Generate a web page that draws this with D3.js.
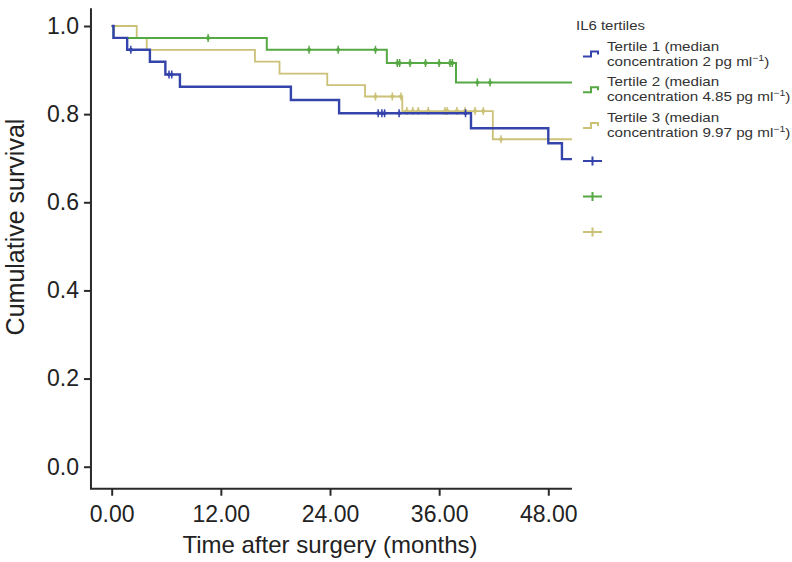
<!DOCTYPE html>
<html>
<head>
<meta charset="utf-8">
<script src="https://cdn.jsdelivr.net/npm/d3@7"></script>
<style>
  html, body { margin: 0; padding: 0; background: #fff; }
  svg { display: block; font-family: "Liberation Sans", Arial, Helvetica, sans-serif; }
  .axis text { fill: #222; }
</style>
</head>
<body>
<svg id="chart" width="792" height="562"></svg>
<script>
// survival steps (months, cumulative survival)
var t1Times = [0, 0.2, 1.7, 4.2, 5.9, 7.5, 19.7, 25.0, 39.5, 48.0, 49.5];
var t1Surv = [1, 0.973, 0.946, 0.919, 0.890, 0.862, 0.832, 0.802, 0.768, 0.734, 0.698];
var t1Censored = [2.1, 6.3, 6.6, 29.3, 29.7, 30.0, 31.6, 38.9];

var t2Times = [0, 0.2, 17.05, 30.25, 37.85];
var t2Surv = [1, 0.973, 0.946, 0.916, 0.872];
var t2Censored = [10.6, 21.7, 24.9, 29.0, 31.4, 31.65, 32.8, 34.5, 36.0, 37.2, 37.45, 40.2, 41.6];

var t3Times = [0, 2.75, 3.85, 15.75, 18.45, 23.7, 27.85, 31.95, 41.9];
var t3Surv = [1, 0.973, 0.946, 0.919, 0.892, 0.866, 0.840, 0.807, 0.743];
var t3Censored = [29.0, 30.85, 31.8, 32.45, 33.1, 33.7, 34.8, 36.65, 36.9, 37.95, 38.85, 39.95, 40.85, 42.8];

var followUpEnd = 50.6;

var xTicks = [0, 12, 24, 36, 48];
var yTicks = [0, 0.2, 0.4, 0.6, 0.8, 1.0];

var legendTitle = "IL6 tertiles";
var legendLine1 = ["Tertile 1 (median", "Tertile 2 (median", "Tertile 3 (median"];
var legendLine2 = ["concentration 2 pg ml", "concentration 4.85 pg ml", "concentration 9.97 pg ml"];

var colors = ["#3444ab", "#55a843", "#cbc177"];

var series = [
    { times: t3Times, surv: t3Surv, cens: t3Censored, color: colors[2], w: 1.8 },
    { times: t2Times, surv: t2Surv, cens: t2Censored, color: colors[1], w: 2 },
    { times: t1Times, surv: t1Surv, cens: t1Censored, color: colors[0], w: 2.4 }
];

var svg = d3.select('#chart');

var x = d3.scaleLinear().domain([0, 48]).range([111.7, 548.3]);
var y = d3.scaleLinear().domain([0, 1]).range([466.7, 26]);

var axisLeft = x(-2.28), axisBottom = y(-0.05), axisTop = y(1.04);

// axes
var yAxis = svg.append('g')
    .attr('class', 'axis')
    .attr('transform', 'translate(' + axisLeft + ',0)')
    .call(d3.axisLeft(y).tickValues(yTicks).tickFormat(d3.format('.1f')).tickSize(7).tickPadding(5));
yAxis.select('.domain').remove();

var xAxis = svg.append('g')
    .attr('class', 'axis')
    .attr('transform', 'translate(0,' + axisBottom + ')')
    .call(d3.axisBottom(x).tickValues(xTicks).tickFormat(d3.format('.2f')).tickSize(7).tickPadding(10));
xAxis.select('.domain').remove();

svg.selectAll('.axis line').attr('stroke', '#2a2a2a').attr('stroke-width', 2);
svg.selectAll('.axis text').attr('font-size', 23);

svg.append('path')
    .attr('d', 'M' + axisLeft + ',' + axisTop + 'V' + axisBottom + 'H' + x(followUpEnd))
    .attr('fill', 'none')
    .attr('stroke', '#2a2a2a')
    .attr('stroke-width', 2);

svg.append('text')
    .attr('x', x(24))
    .attr('y', 553)
    .attr('text-anchor', 'middle')
    .attr('font-size', 24)
    .attr('fill', '#222')
    .text('Time after surgery (months)');

svg.append('text')
    .attr('transform', 'translate(24,' + 227 + ') rotate(-90)')
    .attr('text-anchor', 'middle')
    .attr('font-size', 25)
    .attr('fill', '#222')
    .text('Cumulative survival');

// curves
var line = d3.line()
    .x(d => x(d[0]))
    .y(d => y(d[1]))
    .curve(d3.curveStepAfter);

function survAt(s, t) {
    var v = s.surv[0];
    for (var i = 0; i < s.times.length; i++) {
        if (s.times[i] <= t) v = s.surv[i];
    }
    return v;
}

series.forEach(function(s) {
    var pts = s.times.map((t, i) => [t, s.surv[i]]);
    pts.push([followUpEnd, s.surv[s.surv.length - 1]]);

    var g = svg.append('g');
    g.append('path')
        .datum(pts)
        .attr('d', line)
        .attr('fill', 'none')
        .attr('stroke', s.color)
        .attr('stroke-width', s.w);

    var marks = g.selectAll('.cens')
        .data(s.cens)
        .enter()
        .append('g')
        .attr('class', 'cens')
        .attr('transform', d => 'translate(' + x(d) + ',' + y(survAt(s, d)) + ')');
    marks.append('line')
        .attr('y1', -4).attr('y2', 4)
        .attr('stroke', s.color)
        .attr('stroke-width', 1.5);
    marks.append('circle')
        .attr('r', 2)
        .attr('fill', s.color);
});

// legend
var legend = svg.append('g').attr('transform', 'translate(576,0)');

legend.append('text')
    .attr('transform', 'translate(0,30) scale(1.15,1)')
    .attr('font-size', 13)
    .attr('fill', '#333')
    .text(legendTitle);

legendLine1.forEach(function(l, i) {
    var base = 50.5 + i * 35.7;
    legend.append('path')
        .attr('d', 'M7,' + (base + 6) + 'H15V' + (base + 1) + 'H22V' + (base + 4))
        .attr('fill', 'none')
        .attr('stroke', colors[i])
        .attr('stroke-width', 2);

    legend.append('text')
        .attr('transform', 'translate(31,' + base + ') scale(1.17,1)')
        .attr('font-size', 13)
        .attr('fill', '#333')
        .text(l);

    var t2 = legend.append('text')
        .attr('transform', 'translate(31,' + (base + 15) + ') scale(1.17,1)')
        .attr('font-size', 13)
        .attr('fill', '#333');
    t2.append('tspan').text(legendLine2[i]);
    t2.append('tspan').attr('dy', -5).attr('font-size', 9).text('\u22121');
    t2.append('tspan').attr('dy', 5).text(')');

    var cy = 161 + i * 35.5;
    legend.append('path')
        .attr('d', 'M7,' + cy + 'H26M16.5,' + (cy - 4.5) + 'V' + (cy + 4.5))
        .attr('stroke', colors[i])
        .attr('stroke-width', 2);
});
</script>
</body>
</html>
